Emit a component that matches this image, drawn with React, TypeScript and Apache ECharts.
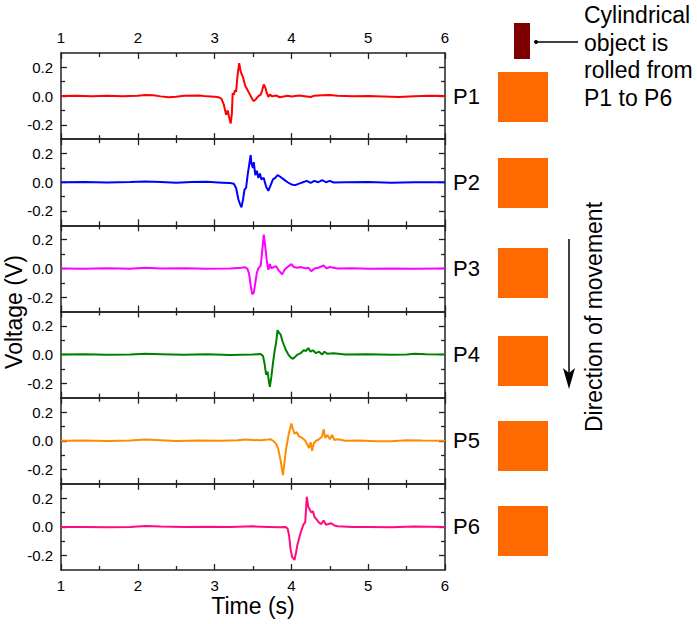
import React, { useEffect, useRef } from "react";
import * as echarts from "echarts";

const panelNames = ["P1", "P2", "P3", "P4", "P5", "P6"];
const panelColors = ["#ff0000", "#0000ff", "#ff00ff", "#008000", "#ff8c00", "#ff0a80"];
const xTicks = [1, 2, 3, 4, 5, 6];
const yMajorTicks = [-0.2, 0, 0.2];
const yMinorTicks = [-0.1, 0.1];
const calloutLines = ["Cylindrical", "object is", "rolled from", "P1 to P6"];

const p1: number[][] = [
  [1.0, 0], [1.2, 0.003], [1.4, -0.002], [1.6, 0.002], [1.8, -0.001], [2.0, 0.002], [2.1, 0.008], [2.2, 0.005],
  [2.3, -0.002], [2.4, -0.008], [2.5, -0.004], [2.6, 0.002], [2.8, 0.004], [2.9, -0.002], [3.0, -0.004],
  [3.05, -0.008], [3.09, -0.02], [3.12, -0.06], [3.15, -0.13], [3.17, -0.1], [3.19, -0.15], [3.21, -0.19],
  [3.225, -0.12], [3.235, 0.02], [3.25, 0.01], [3.265, 0.04], [3.28, 0.03], [3.3, 0.15], [3.32, 0.23],
  [3.34, 0.17], [3.37, 0.13], [3.4, 0.07], [3.43, 0.04], [3.46, 0.01], [3.49, -0.02], [3.51, -0.035],
  [3.54, -0.02], [3.57, 0.0], [3.6, 0.01], [3.62, 0.04], [3.64, 0.08], [3.66, 0.06], [3.68, 0.02],
  [3.7, -0.005], [3.72, 0.01], [3.75, -0.002], [3.8, 0.004], [3.85, -0.008], [3.9, -0.003], [3.95, 0.002],
  [4.0, -0.003], [4.1, 0.004], [4.25, -0.006], [4.3, 0.003], [4.4, 0.006], [4.5, 0.008], [4.6, 0.002],
  [4.8, -0.002], [5.0, 0.0], [5.2, -0.003], [5.4, -0.006], [5.6, -0.002], [5.8, 0.002], [6.0, 0.0],
];

const p2: number[][] = [
  [1.0, 0], [1.3, 0.002], [1.6, -0.002], [1.9, 0.002], [2.1, 0.006], [2.3, 0.002], [2.5, -0.004], [2.7, 0.002],
  [2.9, 0.003], [3.1, -0.003], [3.2, -0.006], [3.25, -0.01], [3.28, -0.04], [3.31, -0.12], [3.33, -0.15],
  [3.35, -0.175], [3.37, -0.12], [3.39, -0.05], [3.41, -0.04], [3.43, 0.05], [3.45, 0.12], [3.47, 0.19],
  [3.48, 0.13], [3.5, 0.1], [3.51, 0.14], [3.53, 0.05], [3.55, 0.08], [3.57, 0.03], [3.59, 0.06], [3.61, 0.02],
  [3.64, 0.03], [3.67, -0.03], [3.7, -0.06], [3.73, -0.02], [3.76, 0.02], [3.79, 0.03], [3.82, 0.05],
  [3.85, 0.04], [3.9, 0.02], [3.95, 0.0], [4.0, -0.015], [4.05, -0.02], [4.1, -0.01], [4.15, 0.0], [4.2, 0.01],
  [4.25, -0.005], [4.3, 0.01], [4.35, 0.0], [4.4, 0.015], [4.45, 0.0], [4.5, 0.01], [4.55, -0.002], [4.7, 0.0],
  [5.0, 0.002], [5.3, -0.003], [5.6, 0.0], [6.0, 0.0],
];

const p3: number[][] = [
  [1.0, 0], [1.3, -0.002], [1.6, 0.002], [1.9, -0.002], [2.1, 0.004], [2.3, 0.0], [2.6, 0.002], [2.9, -0.002],
  [3.2, 0.0], [3.35, 0.004], [3.4, 0.008], [3.43, -0.005], [3.45, -0.04], [3.47, -0.12], [3.49, -0.18],
  [3.51, -0.17], [3.53, -0.1], [3.55, -0.03], [3.57, 0.0], [3.6, 0.02], [3.62, 0.12], [3.64, 0.235],
  [3.66, 0.15], [3.68, 0.05], [3.7, -0.01], [3.72, 0.03], [3.74, 0.0], [3.77, 0.01], [3.8, 0.015],
  [3.83, -0.01], [3.86, -0.03], [3.88, -0.04], [3.91, -0.01], [3.95, 0.01], [4.0, 0.03], [4.03, 0.01],
  [4.08, 0.005], [4.12, 0.01], [4.18, 0.0], [4.22, 0.005], [4.26, -0.02], [4.3, 0.0], [4.35, 0.005],
  [4.42, 0.02], [4.46, 0.0], [4.5, 0.01], [4.6, 0.0], [4.8, 0.002], [5.0, -0.002], [5.3, 0.0], [5.6, -0.003],
  [6.0, 0.0],
];

const p4: number[][] = [
  [1.0, 0], [1.3, 0.002], [1.6, -0.002], [1.9, 0.0], [2.1, 0.006], [2.3, 0.003], [2.6, -0.002], [2.9, 0.002],
  [3.2, -0.003], [3.5, 0.0], [3.6, 0.004], [3.63, -0.01], [3.65, -0.06], [3.67, -0.14], [3.69, -0.12],
  [3.71, -0.2], [3.72, -0.225], [3.74, -0.15], [3.76, -0.06], [3.78, 0.02], [3.8, 0.08], [3.82, 0.17],
  [3.84, 0.15], [3.86, 0.14], [3.88, 0.1], [3.9, 0.07], [3.93, 0.03], [3.96, 0.0], [3.99, -0.02],
  [4.02, -0.03], [4.05, -0.015], [4.08, 0.0], [4.12, 0.01], [4.16, 0.03], [4.19, 0.025], [4.22, 0.045],
  [4.25, 0.02], [4.28, 0.03], [4.32, 0.01], [4.36, 0.02], [4.4, 0.0], [4.43, 0.02], [4.47, 0.005],
  [4.55, 0.01], [4.7, 0.0], [5.0, 0.002], [5.3, -0.002], [5.5, 0.0], [5.6, 0.006], [5.75, 0.002], [6.0, 0.0],
];

const p5: number[][] = [
  [1.0, 0], [1.3, 0.002], [1.6, -0.002], [1.9, 0.002], [2.1, 0.008], [2.3, 0.004], [2.5, -0.002], [2.8, 0.002],
  [3.1, 0.0], [3.3, 0.004], [3.4, 0.008], [3.5, 0.005], [3.6, 0.003], [3.7, 0.008], [3.73, 0.01], [3.76, 0.0],
  [3.8, -0.02], [3.83, -0.06], [3.86, -0.14], [3.89, -0.24], [3.91, -0.15], [3.93, -0.06], [3.95, 0.0],
  [3.97, 0.06], [4.0, 0.12], [4.02, 0.08], [4.04, 0.05], [4.07, 0.06], [4.1, 0.03], [4.14, 0.02], [4.18, 0.0],
  [4.21, -0.03], [4.23, -0.05], [4.25, -0.01], [4.27, -0.07], [4.29, -0.02], [4.32, 0.0], [4.36, 0.01],
  [4.4, 0.03], [4.42, 0.08], [4.44, 0.02], [4.47, 0.04], [4.5, 0.01], [4.53, 0.04], [4.56, 0.005], [4.6, 0.01],
  [4.7, 0.0], [4.9, 0.002], [5.1, -0.004], [5.3, -0.003], [5.5, 0.004], [5.7, 0.002], [6.0, 0.0],
];

const p6: number[][] = [
  [1.0, 0], [1.3, 0.0], [1.6, -0.002], [1.9, 0.0], [2.1, 0.006], [2.3, 0.003], [2.6, 0.0], [2.9, 0.002],
  [3.2, 0.0], [3.5, 0.004], [3.7, 0.0], [3.85, -0.003], [3.92, 0.0], [3.95, -0.01], [3.97, -0.06],
  [3.99, -0.16], [4.01, -0.21], [4.04, -0.23], [4.06, -0.18], [4.08, -0.12], [4.1, -0.08], [4.12, -0.04],
  [4.14, -0.01], [4.16, 0.02], [4.18, 0.03], [4.2, 0.21], [4.22, 0.14], [4.24, 0.12], [4.26, 0.1],
  [4.28, 0.11], [4.3, 0.07], [4.33, 0.05], [4.36, 0.03], [4.39, 0.02], [4.42, 0.045], [4.45, 0.015],
  [4.48, 0.02], [4.52, 0.025], [4.56, 0.01], [4.6, 0.005], [4.8, 0.0], [5.0, 0.0], [5.3, -0.003], [5.6, 0.003],
  [6.0, 0.0],
];

const panelData = [p1, p2, p3, p4, p5, p6];

const FONT = "'Liberation Sans', Arial, Helvetica, sans-serif";
const GRID_LEFT = 61;
const GRID_WIDTH = 384;
const GRID_TOP = 53;
const GRID_BOTTOM = 570;

export default function App() {
  const ref = useRef<HTMLDivElement>(null);

  useEffect(() => {
    document.body.style.margin = "0";
    if (!ref.current) return;
    const chart = echarts.init(ref.current, undefined, { renderer: "svg" });
    const n = panelNames.length;
    const ph = (GRID_BOTTOM - GRID_TOP) / n;

    const grids: any[] = [];
    const xAxes: any[] = [];
    const yAxes: any[] = [];
    const series: any[] = [];
    const graphics: any[] = [];
    const axisLine = { show: true, onZero: false, lineStyle: { color: "#222", width: 1.5 } };
    const labelStyle = { color: "#000", fontSize: 15, fontFamily: FONT };
    const tickStyle = { color: "#222", width: 1.3 };

    for (let i = 0; i < n; i++) {
      const top = GRID_TOP + i * ph;
      grids.push({ left: GRID_LEFT, width: GRID_WIDTH, top, height: ph, containLabel: false });
      ["bottom", "top"].forEach((pos) => {
        const showLabel = (pos === "bottom" && i === n - 1) || (pos === "top" && i === 0);
        xAxes.push({
          type: "value",
          gridIndex: i,
          position: pos,
          min: xTicks[0],
          max: xTicks[xTicks.length - 1],
          interval: 1,
          axisLine,
          axisTick: { show: true, inside: true, length: 6, lineStyle: tickStyle },
          minorTick: { show: true, splitNumber: 2, length: 4, lineStyle: tickStyle },
          axisLabel: { show: showLabel, margin: 8, ...labelStyle },
          splitLine: { show: false },
        });
      });
      ["left", "right"].forEach((pos) => {
        yAxes.push({
          type: "value",
          gridIndex: i,
          position: pos,
          min: -0.3,
          max: 0.3,
          interval: 0.1,
          axisLine,
          axisTick: { show: true, inside: true, length: 6, customValues: yMajorTicks, lineStyle: tickStyle },
          axisLabel: {
            show: pos === "left",
            customValues: yMajorTicks,
            margin: 8,
            formatter: (v: number) => v.toFixed(1),
            ...labelStyle,
          },
          splitLine: { show: false },
        });
        yAxes.push({
          type: "value",
          gridIndex: i,
          position: pos,
          min: -0.3,
          max: 0.3,
          interval: 0.1,
          axisLine: { show: false, onZero: false },
          axisTick: { show: true, inside: true, length: 4, customValues: yMinorTicks, lineStyle: tickStyle },
          axisLabel: { show: false },
          splitLine: { show: false },
        });
      });
      series.push({
        type: "line",
        name: panelNames[i],
        xAxisIndex: 2 * i,
        yAxisIndex: 4 * i,
        data: panelData[i],
        showSymbol: false,
        symbol: "none",
        lineStyle: { color: panelColors[i], width: 2 },
        clip: true,
      });
      graphics.push({
        type: "text",
        x: 453,
        y: top + ph / 2,
        style: { text: panelNames[i], fill: "#000", font: `22px ${FONT}`, verticalAlign: "middle" },
      });
    }

    const squareTops = [72, 158, 248, 336, 421, 506];
    squareTops.forEach((t) => {
      graphics.push({
        type: "rect",
        shape: { x: 498, y: t, width: 50, height: 50 },
        style: { fill: "#ff6a00" },
      });
    });

    graphics.push({ type: "rect", shape: { x: 514, y: 23, width: 16, height: 36 }, style: { fill: "#7f0000" } });
    graphics.push({ type: "circle", shape: { cx: 536, cy: 42, r: 2 }, style: { fill: "#000" } });
    graphics.push({ type: "line", shape: { x1: 536, y1: 42, x2: 578, y2: 42 }, style: { stroke: "#000", lineWidth: 1.5 } });
    calloutLines.forEach((s, k) => {
      graphics.push({
        type: "text",
        x: 584,
        y: 15 + k * 27.5,
        style: { text: s, fill: "#000", font: `23px ${FONT}`, verticalAlign: "middle" },
      });
    });

    graphics.push({ type: "line", shape: { x1: 569, y1: 239, x2: 569, y2: 380 }, style: { stroke: "#000", lineWidth: 1.5 } });
    graphics.push({ type: "polygon", shape: { points: [[563, 368], [569, 389], [575, 368], [569, 373]] }, style: { fill: "#000" } });
    graphics.push({
      type: "text",
      x: 594,
      y: 317,
      rotation: Math.PI / 2,
      style: { text: "Direction of movement", fill: "#000", font: `23px ${FONT}`, align: "center", verticalAlign: "middle" },
    });

    graphics.push({
      type: "text",
      x: 14,
      y: 312,
      rotation: Math.PI / 2,
      style: { text: "Voltage (V)", fill: "#000", font: `23px ${FONT}`, align: "center", verticalAlign: "middle" },
    });
    graphics.push({
      type: "text",
      x: 253,
      y: 606,
      style: { text: "Time (s)", fill: "#000", font: `23px ${FONT}`, align: "center", verticalAlign: "middle" },
    });

    chart.setOption({
      animation: false,
      backgroundColor: "#fff",
      grid: grids,
      xAxis: xAxes,
      yAxis: yAxes,
      series,
      graphic: graphics,
    });
    return () => chart.dispose();
  }, []);

  return <div ref={ref} style={{ width: 697, height: 624 }} />;
}
